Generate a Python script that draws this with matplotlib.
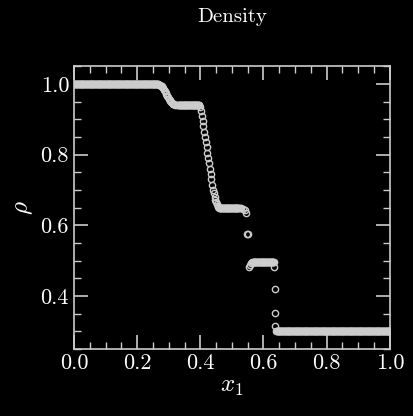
import numpy as np
import matplotlib
matplotlib.use("Agg")
import matplotlib.pyplot as plt
from matplotlib.ticker import MultipleLocator, FormatStrFormatter

plt.rcParams['font.family'] = 'serif'
plt.rcParams['font.serif'] = ['cmr10', 'DejaVu Serif']
plt.rcParams['mathtext.fontset'] = 'cm'
plt.rcParams['axes.formatter.use_mathtext'] = True

dx = 0.0015
# left state
left_rho = 1.0
x_left = np.arange(0.0, 0.268, dx)
# first smooth step
x_step = [0.27, 0.2725, 0.275, 0.2775, 0.28, 0.2825, 0.285, 0.2875, 0.29, 0.2925, 0.295, 0.2975,
          0.30, 0.3025, 0.305, 0.3075, 0.31, 0.3125, 0.315, 0.3175, 0.32, 0.325, 0.33]
r_step = [0.998, 0.997, 0.995, 0.993, 0.99, 0.987, 0.983, 0.979, 0.975, 0.97, 0.966, 0.962,
          0.958, 0.954, 0.951, 0.948, 0.946, 0.944, 0.943, 0.942, 0.941, 0.940, 0.940]
x_plat1 = np.arange(0.332, 0.398, dx)
plat1_rho = 0.94
# rarefaction
x_rare = [0.400, 0.4025, 0.405, 0.4075, 0.41, 0.4125, 0.415, 0.4175, 0.42, 0.4225, 0.425,
          0.4275, 0.43, 0.4325, 0.435, 0.4375, 0.44, 0.4425, 0.445, 0.4475, 0.45, 0.4525,
          0.455, 0.4575, 0.46]
r_rare = [0.935, 0.924, 0.91, 0.895, 0.88, 0.865, 0.85, 0.835, 0.82, 0.805, 0.79,
          0.775, 0.76, 0.745, 0.73, 0.715, 0.70, 0.69, 0.68, 0.672, 0.665, 0.66,
          0.655, 0.652, 0.65]
x_plat2 = np.arange(0.462, 0.523, dx)
plat2_rho = 0.65
# contact
x_cont = [0.525, 0.53, 0.535, 0.54, 0.545, 0.549, 0.551, 0.553, 0.557, 0.561, 0.565]
r_cont = [0.649, 0.648, 0.646, 0.642, 0.636, 0.575, 0.575, 0.482, 0.488, 0.493, 0.495]
x_plat3 = np.arange(0.567, 0.632, dx)
plat3_rho = 0.497
# shock
x_shock = [0.633, 0.634, 0.635, 0.636, 0.637]
r_shock = [0.497, 0.481, 0.419, 0.351, 0.315]
x_right = np.arange(0.64, 1.0001, dx)
right_rho = 0.30

x = np.concatenate([x_left, x_step, x_plat1, x_rare, x_plat2, x_cont, x_plat3, x_shock, x_right])
rho = np.concatenate([np.full(len(x_left), left_rho), r_step, np.full(len(x_plat1), plat1_rho),
                      r_rare, np.full(len(x_plat2), plat2_rho), r_cont,
                      np.full(len(x_plat3), plat3_rho), r_shock, np.full(len(x_right), right_rho)])

fg = '#cccccc'
fig = plt.figure(figsize=(4.13, 4.16), dpi=100, facecolor='black')
ax = fig.add_axes([0.179, 0.161, 0.765, 0.680], facecolor='black')
ax.plot(x, rho, 'o', mfc='none', mec=fg, ms=4.5, mew=1.0)
ax.set_xlim(0, 1)
ax.set_ylim(0.25, 1.05)
ax.xaxis.set_major_locator(MultipleLocator(0.2))
ax.xaxis.set_minor_locator(MultipleLocator(0.05))
ax.yaxis.set_major_locator(MultipleLocator(0.2))
ax.yaxis.set_minor_locator(MultipleLocator(0.05))
ax.tick_params(which='both', direction='in', top=True, right=True, colors=fg, labelcolor='white', labelsize=16)
ax.tick_params(which='major', length=10, width=1.2)
ax.tick_params(which='minor', length=5, width=1.0)
for s in ax.spines.values():
    s.set_color(fg)
    s.set_linewidth(1.2)
ax.xaxis.set_major_formatter(FormatStrFormatter('%.1f'))
ax.yaxis.set_major_formatter(FormatStrFormatter('%.1f'))
ax.set_xlabel(r'$x_1$', color='white', fontsize=18, labelpad=2)
ax.set_ylabel(r'$\rho$', color='white', fontsize=18)
ax.set_title('Density', color='white', fontsize=15, pad=32)
fig.savefig('out.png', dpi=100, facecolor='black')
